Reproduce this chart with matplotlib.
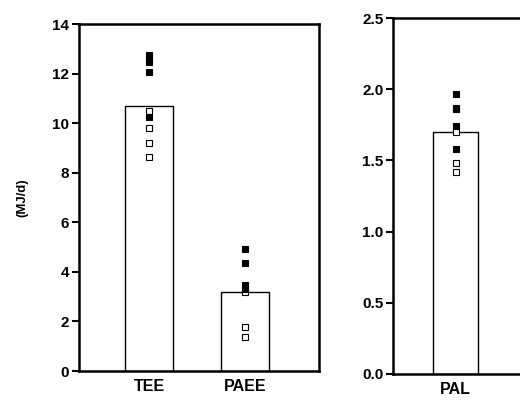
import matplotlib.pyplot as plt

plt.rcParams['font.family'] = ['Liberation Sans', 'DejaVu Sans']
plt.rcParams['font.weight'] = 'bold'

# energy expenditure (MJ/d)
ee_labels = ['TEE', 'PAEE']
ee_means = [10.7, 3.2]
tee_filled = [12.75, 12.6, 12.45, 12.05, 10.25]
tee_open = [10.5, 9.8, 9.2, 8.65]
paee_filled = [4.93, 4.35, 3.45, 3.3]
paee_open = [3.2, 1.78, 1.36]

# physical activity level
pal_label = ['PAL']
pal_mean = [1.70]
pal_filled = [1.97, 1.87, 1.74, 1.58]
pal_open = [1.86, 1.70, 1.48, 1.42]

fig = plt.figure(figsize=(5.2, 4.03), dpi=100)
ax1 = fig.add_axes([0.152, 0.0794, 0.4615, 0.861])
ax2 = fig.add_axes([0.7558, 0.072, 0.273, 0.883])


def style(ax):
    for s in ax.spines.values():
        s.set_linewidth(1.8)
    ax.tick_params(axis='y', direction='out', length=5, width=1.5, pad=2, labelsize=11)
    ax.tick_params(axis='x', length=0, pad=6, labelsize=11.5)


def dots(ax, x, filled, opened):
    ax.plot([x] * len(opened), opened, 's', ms=5, mfc='white', mec='black', mew=0.8, zorder=3)
    ax.plot([x] * len(filled), filled, 's', ms=5, mfc='black', mec='black', mew=0.8, zorder=4)


ax1.bar([0, 1], ee_means, width=0.5, color='white', edgecolor='black', linewidth=1.0)
dots(ax1, 0, tee_filled, tee_open)
dots(ax1, 1, paee_filled, paee_open)
ax1.set_xlim(-0.73, 1.77)
ax1.set_ylim(0, 14)
ax1.set_yticks(range(0, 15, 2))
ax1.set_xticks([0, 1], ee_labels)
ax1.set_ylabel('(MJ/d)', fontsize=9.5, fontweight='bold', labelpad=17)
style(ax1)

ax2.bar([0], pal_mean, width=0.5, color='white', edgecolor='black', linewidth=1.0)
dots(ax2, 0, pal_filled, pal_open)
ax2.set_xlim(-0.687, 0.87)
ax2.set_ylim(0, 2.5)
ax2.set_yticks([0, 0.5, 1.0, 1.5, 2.0, 2.5])
ax2.set_yticklabels(['0.0', '0.5', '1.0', '1.5', '2.0', '2.5'])
ax2.set_xticks([0], pal_label)
style(ax2)

fig.savefig('out.png', dpi=100)
